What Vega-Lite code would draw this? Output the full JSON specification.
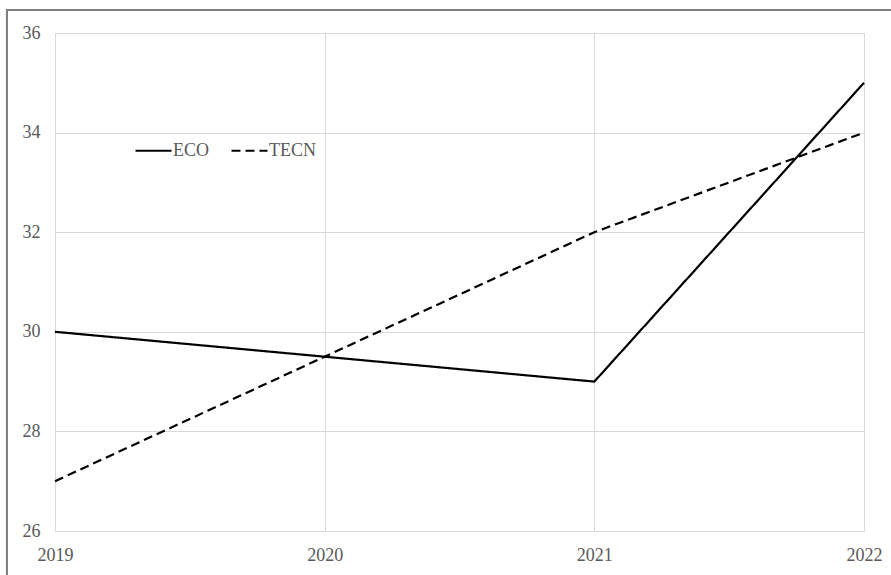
{
  "$schema": "https://vega.github.io/schema/vega-lite/v6.json",
  "width": 809,
  "height": 498,
  "autosize": {"type": "none"},
  "padding": {"left": 55, "top": 33, "right": 27, "bottom": 44},
  "background": "white",
  "config": {
    "view": {"stroke": null},
    "font": "Liberation Serif",
    "axis": {
      "labelFont": "Liberation Serif",
      "labelFontSize": 18,
      "labelColor": "#595959",
      "grid": true,
      "gridColor": "#d9d9d9",
      "domain": false,
      "ticks": false,
      "title": null
    }
  },
  "data": {
    "values": [
      {"year": 2019, "series": "ECO", "value": 30},
      {"year": 2020, "series": "ECO", "value": 29.5},
      {"year": 2021, "series": "ECO", "value": 29},
      {"year": 2022, "series": "ECO", "value": 35},
      {"year": 2019, "series": "TECN", "value": 27},
      {"year": 2020, "series": "TECN", "value": 29.5},
      {"year": 2021, "series": "TECN", "value": 32},
      {"year": 2022, "series": "TECN", "value": 34}
    ]
  },
  "layer": [
    {
      "mark": {"type": "line", "color": "black", "strokeWidth": 2.2},
      "encoding": {
        "x": {
          "field": "year",
          "type": "quantitative",
          "scale": {"domain": [2019, 2022], "nice": false, "zero": false},
          "axis": {
            "values": [2019, 2020, 2021, 2022],
            "format": "d",
            "title": null,
            "grid": true,
            "gridColor": "#d9d9d9",
            "domain": false,
            "ticks": false,
            "labelFont": "Liberation Serif",
            "labelFontSize": 18,
            "labelColor": "#595959",
            "labelPadding": 15,
            "labelFlush": false
          }
        },
        "y": {
          "field": "value",
          "type": "quantitative",
          "scale": {"domain": [26, 36], "nice": false, "zero": false},
          "axis": {
            "values": [26, 28, 30, 32, 34, 36],
            "title": null,
            "grid": true,
            "gridColor": "#d9d9d9",
            "domain": false,
            "ticks": false,
            "labelFont": "Liberation Serif",
            "labelFontSize": 18,
            "labelColor": "#595959",
            "labelPadding": 15
          }
        },
        "strokeDash": {
          "field": "series",
          "type": "nominal",
          "scale": {"domain": ["ECO", "TECN"], "range": [[1, 0], [9, 5]]},
          "legend": {
            "title": null,
            "orient": "none",
            "legendX": 79,
            "legendY": 98,
            "direction": "horizontal",
            "symbolType": "stroke",
            "symbolSize": 1296,
            "symbolStrokeWidth": 2.2,
            "symbolStrokeColor": "black",
            "labelFont": "Liberation Serif",
            "labelFontSize": 18,
            "labelColor": "#595959",
            "labelOffset": 0,
            "columnPadding": 18
          }
        }
      }
    },
    {
      "mark": {"type": "rect", "fill": null, "stroke": "#7f7f7f", "strokeWidth": 2, "clip": false},
      "encoding": {
        "x": {"datum": 2018.822, "type": "quantitative"},
        "x2": {"datum": 2023.5},
        "y": {"datum": 36.46, "type": "quantitative"},
        "y2": {"datum": 24}
      }
    }
  ]
}
